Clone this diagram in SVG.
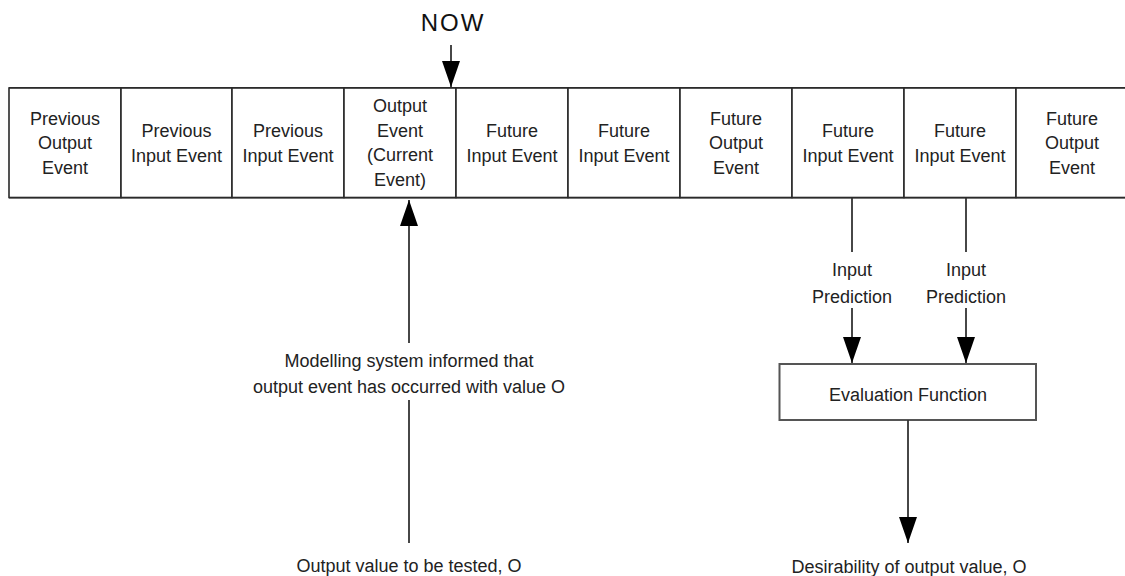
<svg xmlns="http://www.w3.org/2000/svg" width="1125" height="576" viewBox="0 0 1125 576">
  <style>
    .cell { fill: #ffffff; stroke: #2a2a2a; stroke-width: 1.6; }
    .lbl { font-family: "Liberation Sans", Arial, sans-serif; font-size: 18px; fill: #222; text-anchor: middle; }
    .now { font-family: "Liberation Sans", Arial, sans-serif; font-size: 24px; fill: #111; text-anchor: middle; letter-spacing: 2px; }
    .wire { stroke: #333; stroke-width: 1.8; fill: none; }
    .evalbox { fill: #ffffff; stroke: #555; stroke-width: 2; }
  </style>
  <defs>
    <marker id="head" markerUnits="userSpaceOnUse" markerWidth="26" markerHeight="18" refX="26" refY="9" orient="auto" viewBox="0 0 26 18">
      <path d="M0,0 L26,9 L0,18 Z" fill="#000"/>
    </marker>
  </defs>

  <rect width="1125" height="576" fill="#ffffff"/>

  <!-- timeline of events -->
  <g id="timeline">
    <line class="wire" x1="9" y1="88" x2="1125" y2="88"/>
    <line class="wire" x1="9" y1="197.5" x2="1125" y2="197.5"/>
  </g>

  <g id="ev-prev-output">
    <rect class="cell" x="9" y="88" width="112" height="109.5"/>
    <text class="lbl"><tspan x="65" y="124.5">Previous</tspan><tspan x="65" y="149">Output</tspan><tspan x="65" y="173.5">Event</tspan></text>
  </g>
  <g id="ev-prev-input-1">
    <rect class="cell" x="121" y="88" width="111" height="109.5"/>
    <text class="lbl"><tspan x="176.5" y="137">Previous</tspan><tspan x="176.5" y="161.5">Input Event</tspan></text>
  </g>
  <g id="ev-prev-input-2">
    <rect class="cell" x="232" y="88" width="112" height="109.5"/>
    <text class="lbl"><tspan x="288" y="137">Previous</tspan><tspan x="288" y="161.5">Input Event</tspan></text>
  </g>
  <g id="ev-current-output">
    <rect class="cell" x="344" y="88" width="112" height="109.5"/>
    <text class="lbl"><tspan x="400" y="112">Output</tspan><tspan x="400" y="136.5">Event</tspan><tspan x="400" y="161">(Current</tspan><tspan x="400" y="185.5">Event)</tspan></text>
  </g>
  <g id="ev-future-input-1">
    <rect class="cell" x="456" y="88" width="112" height="109.5"/>
    <text class="lbl"><tspan x="512" y="137">Future</tspan><tspan x="512" y="161.5">Input Event</tspan></text>
  </g>
  <g id="ev-future-input-2">
    <rect class="cell" x="568" y="88" width="112" height="109.5"/>
    <text class="lbl"><tspan x="624" y="137">Future</tspan><tspan x="624" y="161.5">Input Event</tspan></text>
  </g>
  <g id="ev-future-output-1">
    <rect class="cell" x="680" y="88" width="112" height="109.5"/>
    <text class="lbl"><tspan x="736" y="124.5">Future</tspan><tspan x="736" y="149">Output</tspan><tspan x="736" y="173.5">Event</tspan></text>
  </g>
  <g id="ev-future-input-3">
    <rect class="cell" x="792" y="88" width="112" height="109.5"/>
    <text class="lbl"><tspan x="848" y="137">Future</tspan><tspan x="848" y="161.5">Input Event</tspan></text>
  </g>
  <g id="ev-future-input-4">
    <rect class="cell" x="904" y="88" width="112" height="109.5"/>
    <text class="lbl"><tspan x="960" y="137">Future</tspan><tspan x="960" y="161.5">Input Event</tspan></text>
  </g>
  <g id="ev-future-output-2">
    <rect class="cell" x="1016" y="88" width="112" height="109.5"/>
    <text class="lbl"><tspan x="1072" y="124.5">Future</tspan><tspan x="1072" y="149">Output</tspan><tspan x="1072" y="173.5">Event</tspan></text>
  </g>

  <g id="now-label">
    <text class="now" x="453" y="31">NOW</text>
  </g>

  <g id="evaluation-function">
    <rect class="evalbox" x="779.5" y="364" width="256.5" height="56"/>
    <text class="lbl" x="908" y="400.5">Evaluation Function</text>
  </g>

  <g id="labels">
    <text class="lbl"><tspan x="409" y="366.5">Modelling system informed that</tspan><tspan x="409" y="393">output event has occurred with value O</tspan></text>
    <text class="lbl" x="409" y="571.5">Output value to be tested, O</text>
    <text class="lbl"><tspan x="852" y="276">Input</tspan><tspan x="852" y="302.5">Prediction</tspan></text>
    <text class="lbl"><tspan x="966" y="276">Input</tspan><tspan x="966" y="302.5">Prediction</tspan></text>
    <text class="lbl" x="909" y="572.5">Desirability of output value, O</text>
  </g>

  <g id="connectors">
    <!-- NOW marker -->
    <line class="wire" x1="451" y1="45" x2="451" y2="87" marker-end="url(#head)"/>
    <!-- output value fed back into the current event -->
    <line class="wire" x1="409" y1="543" x2="409" y2="400"/>
    <line class="wire" x1="409" y1="343" x2="409" y2="200" marker-end="url(#head)"/>
    <!-- input predictions -->
    <line class="wire" x1="852" y1="198" x2="852" y2="252"/>
    <line class="wire" x1="852" y1="308" x2="852" y2="363" marker-end="url(#head)"/>
    <line class="wire" x1="966" y1="198" x2="966" y2="252"/>
    <line class="wire" x1="966" y1="308" x2="966" y2="363" marker-end="url(#head)"/>
    <!-- evaluation output -->
    <line class="wire" x1="908" y1="420" x2="908" y2="543" marker-end="url(#head)"/>
  </g>
</svg>
